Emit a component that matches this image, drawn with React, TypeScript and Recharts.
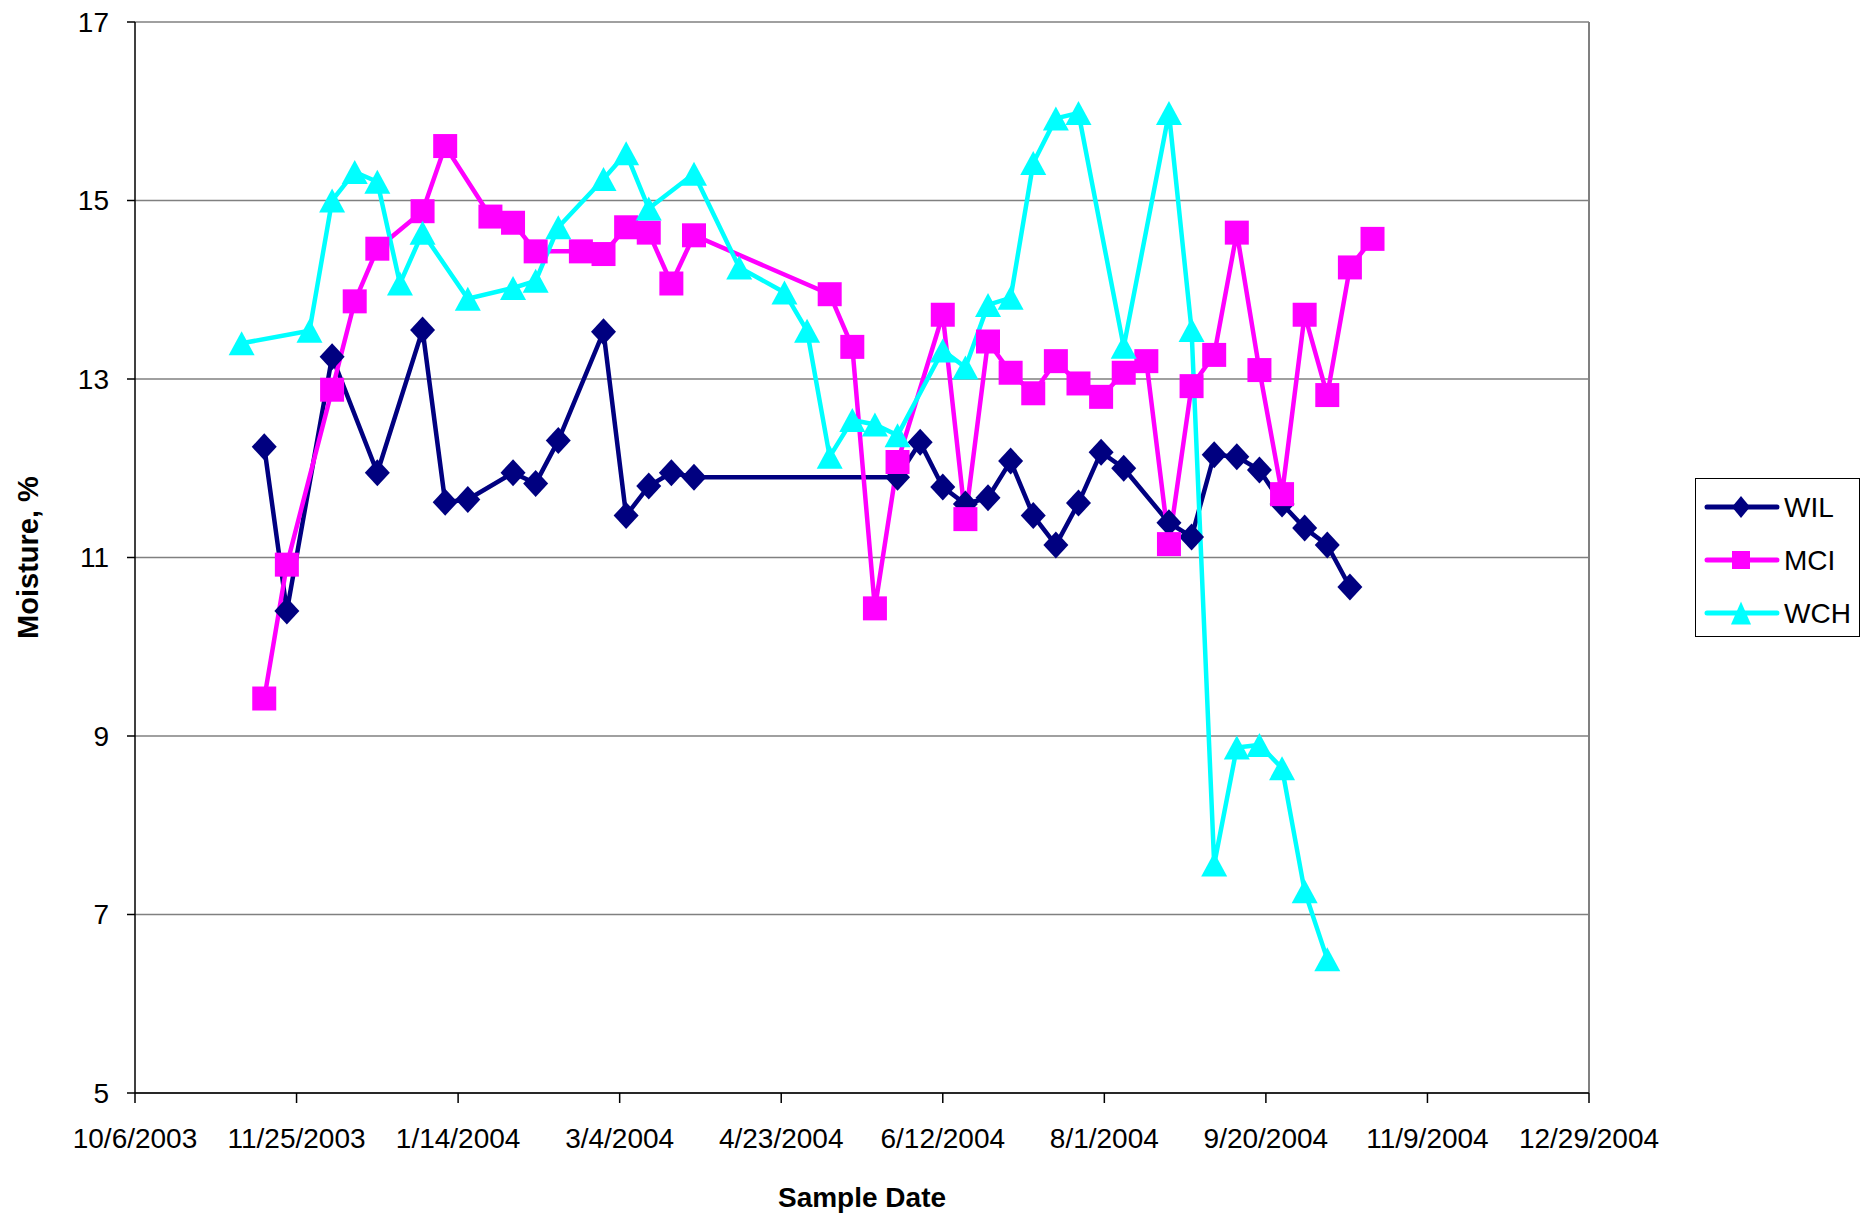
import React from 'react'
import { LineChart, Line, XAxis, YAxis, CartesianGrid, ReferenceLine } from 'recharts'

// sample dates and moisture readings for each site
const wilDates = [
  '11/15/2003', '11/22/2003', '12/6/2003', '12/20/2003', '1/3/2004', '1/10/2004', '1/17/2004',
  '1/31/2004', '2/7/2004', '2/14/2004', '2/28/2004', '3/6/2004', '3/13/2004', '3/20/2004',
  '3/27/2004', '5/29/2004', '6/5/2004', '6/12/2004', '6/19/2004', '6/26/2004', '7/3/2004',
  '7/10/2004', '7/17/2004', '7/24/2004', '7/31/2004', '8/7/2004', '8/21/2004', '8/28/2004',
  '9/4/2004', '9/11/2004', '9/18/2004', '9/25/2004', '10/2/2004', '10/9/2004', '10/16/2004',
]
const wilValues = [
  12.24, 10.4, 13.25, 11.95, 13.55, 11.62, 11.65, 11.95, 11.83, 12.31, 13.53, 11.47, 11.8, 11.95,
  11.9, 11.9, 12.29, 11.79, 11.6, 11.67, 12.08, 11.47, 11.14, 11.61, 12.18, 12.0, 11.39, 11.23,
  12.15, 12.13, 11.98, 11.6, 11.33, 11.14, 10.67,
]

const mciDates = [
  '11/15/2003', '11/22/2003', '12/6/2003', '12/13/2003', '12/20/2003', '1/3/2004', '1/10/2004',
  '1/24/2004', '1/31/2004', '2/7/2004', '2/21/2004', '2/28/2004', '3/6/2004', '3/13/2004',
  '3/20/2004', '3/27/2004', '5/8/2004', '5/15/2004', '5/22/2004', '5/29/2004', '6/12/2004',
  '6/19/2004', '6/26/2004', '7/3/2004', '7/10/2004', '7/17/2004', '7/24/2004', '7/31/2004',
  '8/7/2004', '8/14/2004', '8/21/2004', '8/28/2004', '9/4/2004', '9/11/2004', '9/18/2004',
  '9/25/2004', '10/2/2004', '10/9/2004', '10/16/2004', '10/23/2004',
]
const mciValues = [
  9.42, 10.92, 12.88, 13.87, 14.46, 14.88, 15.61, 14.82, 14.75, 14.43, 14.43, 14.4, 14.7, 14.64,
  14.07, 14.61, 13.95, 13.36, 10.43, 12.07, 13.72, 11.43, 13.42, 13.07, 12.84, 13.2, 12.95, 12.8,
  13.07, 13.2, 11.15, 12.92, 13.27, 14.64, 13.1, 11.71, 13.72, 12.82, 14.25, 14.57,
]

const wchDates = [
  '11/8/2003', '11/29/2003', '12/6/2003', '12/13/2003', '12/20/2003', '12/27/2003', '1/3/2004',
  '1/17/2004', '1/31/2004', '2/7/2004', '2/14/2004', '2/28/2004', '3/6/2004', '3/13/2004',
  '3/27/2004', '4/10/2004', '4/24/2004', '5/1/2004', '5/8/2004', '5/15/2004', '5/22/2004',
  '5/29/2004', '6/12/2004', '6/19/2004', '6/26/2004', '7/3/2004', '7/10/2004', '7/17/2004',
  '7/24/2004', '8/7/2004', '8/21/2004', '8/28/2004', '9/4/2004', '9/11/2004', '9/18/2004',
  '9/25/2004', '10/2/2004', '10/9/2004',
]
const wchValues = [
  13.4, 13.54, 15.0, 15.32, 15.21, 14.07, 14.64, 13.9, 14.02, 14.1, 14.7, 15.24, 15.53, 14.91,
  15.3, 14.25, 13.97, 13.54, 12.13, 12.54, 12.49, 12.37, 13.32, 13.13, 13.83, 13.91, 15.42, 15.92,
  15.98, 13.36, 15.98, 13.55, 7.56, 8.87, 8.9, 8.64, 7.26, 6.5,
]

const xTickLabels = [
  '10/6/2003', '11/25/2003', '1/14/2004', '3/4/2004', '4/23/2004', '6/12/2004', '8/1/2004',
  '9/20/2004', '11/9/2004', '12/29/2004',
]
const yTicks = [5, 7, 9, 11, 13, 15, 17]

const FONT = '"Liberation Sans", Arial, sans-serif'

// m/d/yyyy -> day number
function toDay(s: string): number {
  const [m, d, y] = s.split('/').map(Number)
  return Date.UTC(y, m - 1, d) / 86400000
}

const build = (dates: string[], values: number[]) =>
  dates.map((d, i) => ({ t: toDay(d), v: values[i] }))

const xTicks = xTickLabels.map(toDay)
const labelByDay: Record<number, string> = {}
xTickLabels.forEach((s) => { labelByDay[toDay(s)] = s })

const diamondPath = (cx: number, cy: number, w: number, h: number) =>
  `M${cx},${cy - h}L${cx + w},${cy}L${cx},${cy + h}L${cx - w},${cy}Z`
const squarePath = (cx: number, cy: number, s: number) =>
  `M${cx - s},${cy - s}h${2 * s}v${2 * s}h${-2 * s}Z`
const trianglePath = (cx: number, cy: number, w: number, h: number) =>
  `M${cx},${cy - h}L${cx + w},${cy + h}L${cx - w},${cy + h}Z`

const series = [
  { name: 'WIL', color: '#000080', data: build(wilDates, wilValues), marker: 'diamond' },
  { name: 'MCI', color: '#FF00FF', data: build(mciDates, mciValues), marker: 'square' },
  { name: 'WCH', color: '#00FFFF', data: build(wchDates, wchValues), marker: 'triangle' },
]

function markerPath(kind: string, cx: number, cy: number, legend = false) {
  if (kind === 'diamond') return legend ? diamondPath(cx, cy, 9, 11) : diamondPath(cx, cy, 12.5, 13.5)
  if (kind === 'square') return legend ? squarePath(cx, cy, 9) : squarePath(cx, cy, 12)
  return legend ? trianglePath(cx, cy, 10, 11.5) : trianglePath(cx, cy, 13, 12)
}

const makeDot = (kind: string, color: string) => (props: any) => {
  const { cx, cy, index } = props
  if (cx == null || cy == null) return <g key={index} />
  return <path key={index} d={markerPath(kind, cx, cy)} fill={color} />
}

function LegendBox() {
  return (
    <div
      style={{
        position: 'absolute',
        left: 1695,
        top: 478,
        width: 165,
        height: 159,
        boxSizing: 'border-box',
        border: '1.5px solid #000',
        background: '#fff',
        fontFamily: FONT,
      }}
    >
      <svg width={162} height={156} style={{ display: 'block' }}>
        {series.map((s, i) => {
          const y = 28 + i * 53
          return (
            <g key={s.name}>
              <line x1={11} x2={81} y1={y} y2={y} stroke={s.color} strokeWidth={5} strokeLinecap="round" />
              <path d={markerPath(s.marker, 45, y, true)} fill={s.color} />
              <text x={88} y={y + 10} fontSize={28} fill="#000">{s.name}</text>
            </g>
          )
        })}
      </svg>
    </div>
  )
}

export default function App() {
  return (
    <div style={{ position: 'relative', width: 1875, height: 1220, background: '#fff' }}>
      <style>{'body{margin:0}'}</style>
      <LineChart
        width={1875}
        height={1220}
        margin={{ top: 22, right: 286, left: 0, bottom: 0 }}
        style={{ fontFamily: FONT }}
      >
        <CartesianGrid vertical={false} stroke="#808080" strokeWidth={1.5} />
        <XAxis
          type="number"
          dataKey="t"
          domain={[xTicks[0], xTicks[xTicks.length - 1]]}
          ticks={xTicks}
          tickFormatter={(v) => labelByDay[v] ?? ''}
          height={127}
          tickSize={10}
          tickMargin={25}
          interval={0}
          stroke="#000"
          strokeWidth={1.5}
          tick={{ fill: '#000', fontSize: 28 }}
          label={{
            content: ({ viewBox }: any) => (
              <text
                x={viewBox.x + viewBox.width / 2}
                y={viewBox.y + 114}
                textAnchor="middle"
                fontSize={28}
                fontWeight="bold"
                fill="#000"
              >
                Sample Date
              </text>
            ),
          }}
        />
        <YAxis
          type="number"
          domain={[5, 17]}
          ticks={yTicks}
          width={135}
          tickSize={8}
          tickMargin={18}
          stroke="#000"
          strokeWidth={1.5}
          tick={{ fill: '#000', fontSize: 28 }}
          label={{
            content: ({ viewBox }: any) => {
              const x = viewBox.x + 28
              const y = viewBox.y + viewBox.height / 2
              return (
                <text
                  x={x}
                  y={y}
                  transform={`rotate(-90 ${x} ${y})`}
                  textAnchor="middle"
                  dominantBaseline="central"
                  fontSize={29}
                  fontWeight="bold"
                  fill="#000"
                >
                  Moisture, %
                </text>
              )
            },
          }}
        />
        <ReferenceLine x={xTicks[xTicks.length - 1]} stroke="#808080" strokeWidth={2} />
        {series.map((s) => (
          <Line
            key={s.name}
            data={s.data}
            dataKey="v"
            name={s.name}
            type="linear"
            stroke={s.color}
            strokeWidth={4.5}
            dot={makeDot(s.marker, s.color)}
            activeDot={false}
            isAnimationActive={false}
          />
        ))}
      </LineChart>
      <LegendBox />
    </div>
  )
}
